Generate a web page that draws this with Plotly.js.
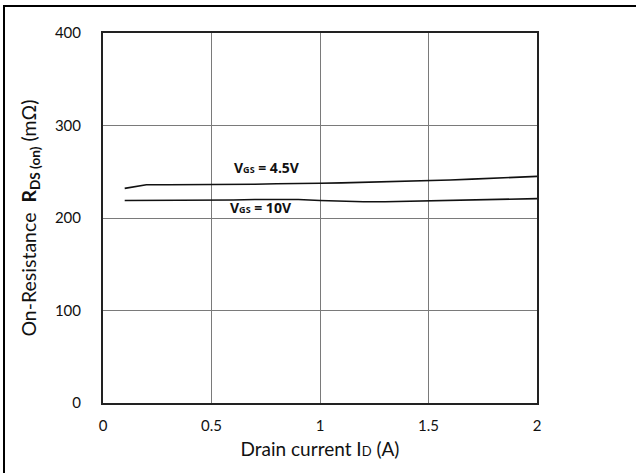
<!DOCTYPE html>
<html>
<head>
<meta charset="utf-8">
<script src="https://cdn.plot.ly/plotly-3.0.1.min.js"></script>
<style>
html,body{margin:0;padding:0;background:#fff;overflow:hidden;width:636px;height:473px;}
#chart{position:absolute;left:0;top:0;width:636px;height:473px;}
#fl{position:absolute;left:3px;top:5px;width:2px;height:468px;background:#000;}
#ft{position:absolute;left:3px;top:5px;width:633px;height:2px;background:#000;}
</style>
</head>
<body>
<div id="chart"></div>
<div id="fl"></div>
<div id="ft"></div>
<script>
var currentA = [0.1,0.2,0.3,0.4,0.5,0.6,0.7,0.8,0.9,1.0,1.1,1.2,1.3,1.4,1.5,1.6,1.7,1.8,1.9,2.0];
var rdsVgs45 = [232,236,236,236,236,236,236.5,237,237,237.5,238,238.5,239,239.5,240,241,242,243,244,245];
var rdsVgs10 = [219,219,219,219,219.5,219.5,220,220,220,219,218,217.5,217.5,218,218.5,219,219.5,220,220.5,221];
var seriesLabels = ['V<span style="font-size:9px">GS</span> = 4.5V','V<span style="font-size:9px">GS</span> = 10V'];
var labelPos = [[0.755,255],[0.73,211]];
var xTicks = [0,0.5,1,1.5,2];
var yTicks = [0,100,200,300,400];

var font = 'Lato, "Liberation Sans", sans-serif';
var traces = [
  {x: currentA, y: rdsVgs45, mode:'lines', line:{color:'#111', width:1.6}, hoverinfo:'skip'},
  {x: currentA, y: rdsVgs10, mode:'lines', line:{color:'#111', width:1.6}, hoverinfo:'skip'}
];
var layout = {
  width:636, height:473,
  margin:{l:103, r:99, t:33, b:70},
  paper_bgcolor:'#fff', plot_bgcolor:'#fff',
  showlegend:false,
  font:{family:font, color:'#111', size:15},
  xaxis:{range:[0,2], tickvals:xTicks, ticktext:xTicks.map(String), showgrid:true, gridcolor:'#7a7a7a', gridwidth:1,
    zeroline:false, showline:true, linecolor:'#222', linewidth:2, mirror:true, ticks:'outside', ticklen:8, tickcolor:'rgba(0,0,0,0)',
    tickfont:{size:15, color:'#111'}, fixedrange:true,
    title:{text:'Drain current I<span style="font-size:13px">D</span> (A)', font:{size:19, color:'#111'}, standoff:10}},
  yaxis:{range:[0,400], tickvals:yTicks, ticktext:yTicks.map(String), showgrid:true, gridcolor:'#7a7a7a', gridwidth:1,
    zeroline:false, showline:true, linecolor:'#222', linewidth:2, mirror:true, ticks:'outside', ticklen:17, tickcolor:'rgba(0,0,0,0)',
    tickfont:{size:15, color:'#111'}, fixedrange:true,
    title:{text:'On-Resistance  <b>R</b><sub><b>DS (on)</b></sub> (mΩ)', font:{size:19.5, color:'#111'}, standoff:13}},
  annotations: seriesLabels.map(function(t,i){
    return {x:labelPos[i][0], y:labelPos[i][1], xref:'x', yref:'y', text:'<b>'+t+'</b>', showarrow:false,
      font:{family:'"Open Sans", "Liberation Sans", sans-serif', size:14, color:'#111'}};
  })
};
Plotly.newPlot('chart', traces, layout, {staticPlot:true, displayModeBar:false});
</script>
</body>
</html>
